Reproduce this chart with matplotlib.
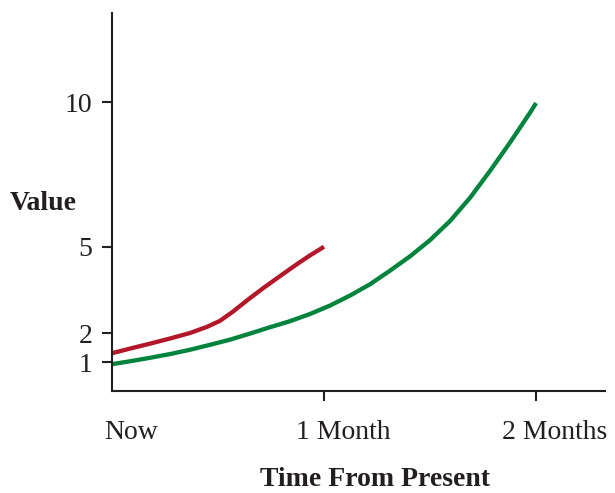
import matplotlib
matplotlib.use('Agg')
import matplotlib.pyplot as plt
import matplotlib.transforms as mtransforms

plt.rcParams['font.family'] = ['Liberation Serif', 'DejaVu Serif']

# months from now
red_x = [0.0, 0.085, 0.179, 0.274, 0.368, 0.447, 0.509, 0.572, 0.635,
         0.714, 0.792, 0.871, 0.934, 1.0]
red_y = [1.31, 1.47, 1.64, 1.82, 2.01, 2.22, 2.43, 2.76, 3.13,
         3.57, 3.98, 4.39, 4.70, 5.0]

green_x = [0.0, 0.085, 0.179, 0.274, 0.368, 0.462, 0.557, 0.651, 0.745,
           0.840, 0.934, 1.028, 1.123, 1.217, 1.311, 1.406, 1.5, 1.594,
           1.689, 1.783, 1.877, 1.972, 2.0]
green_y = [0.93, 1.03, 1.15, 1.28, 1.43, 1.60, 1.78, 1.99, 2.21,
           2.42, 2.67, 2.96, 3.31, 3.70, 4.17, 4.67, 5.23, 5.89,
           6.70, 7.63, 8.61, 9.65, 9.98]

x_ticks = [0, 1, 2]
x_labels = ['Now', '1 Month', '2 Months']
y_ticks = [1, 2, 5, 10]
y_labels = ['1', '2', '5', '10']

ink = '#231f20'

fig = plt.figure(figsize=(6.15, 4.93), dpi=100)
ax = fig.add_axes([112 / 615, 1 - 391 / 493, 493 / 615, 378 / 493])

ax.plot(red_x, red_y, color='#b3172a', linewidth=3.1,
        solid_capstyle='butt', solid_joinstyle='round')
ax.plot(green_x, green_y, color='#00843d', linewidth=3.1,
        solid_capstyle='butt', solid_joinstyle='round')

ax.set_xlim(0, 2.325)
ax.set_ylim(0, 13.1)

for side in ['top', 'right']:
    ax.spines[side].set_visible(False)
for side in ['left', 'bottom']:
    ax.spines[side].set_linewidth(1.5)
    ax.spines[side].set_color(ink)

ax.set_xticks(x_ticks)
ax.set_xticklabels(x_labels, fontsize=20, color=ink)
ax.set_yticks(y_ticks)
ax.set_yticklabels(y_labels, fontsize=20, color=ink)
ax.tick_params(axis='both', direction='out', length=7, width=1.5, color=ink)
ax.tick_params(axis='x', pad=14)
ax.tick_params(axis='y', pad=7)
ax.xaxis.get_major_ticks()[0].tick1line.set_visible(False)

# labels sit a bit right of their ticks
shift = mtransforms.ScaledTranslation(19 / 100, 0, fig.dpi_scale_trans)
for lab in ax.get_xticklabels():
    lab.set_transform(lab.get_transform() + shift)

fig.text(10 / 615, 1 - 204 / 493, 'Value', fontsize=20, fontweight='bold',
         ha='left', va='center', color=ink)
fig.text(375 / 615, 1 - 480 / 493, 'Time From Present', fontsize=20,
         fontweight='bold', ha='center', va='center', color=ink)

fig.savefig('out.png', dpi=100)
